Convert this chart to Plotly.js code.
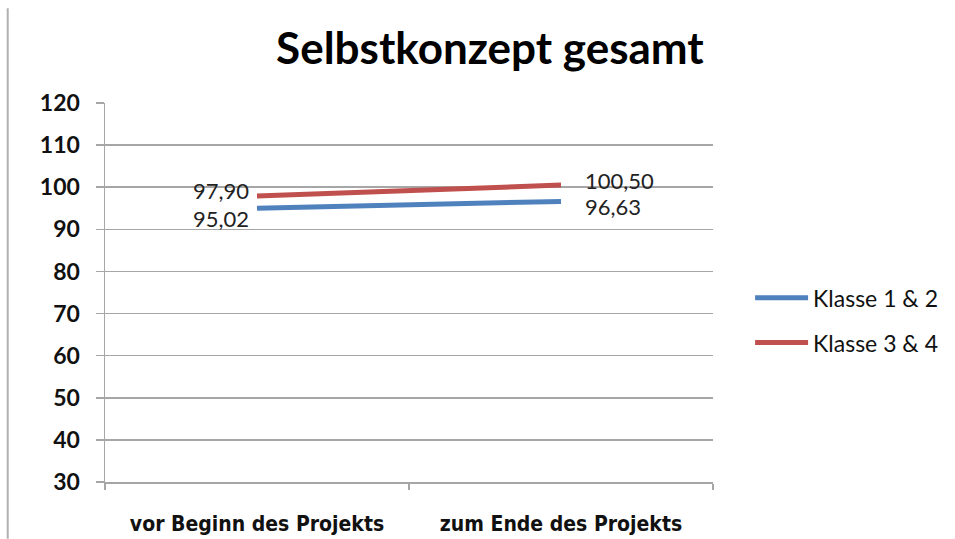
<!DOCTYPE html>
<html>
<head>
<meta charset="utf-8">
<script src="https://cdn.plot.ly/plotly-3.0.1.min.js"></script>
<style>html,body{margin:0;padding:0;background:#fff;}#chart{width:955px;height:539px;}</style>
</head>
<body>
<div id="chart"></div>
<script>
const categories = ["vor Beginn des Projekts", "zum Ende des Projekts"];
const seriesNames = ["Klasse 1 & 2", "Klasse 3 & 4"];
const klasse12 = [95.02, 96.63];
const klasse34 = [97.90, 100.50];
const yTicks = [30, 40, 50, 60, 70, 80, 90, 100, 110, 120];

const fmt = v => v.toFixed(2).replace('.', ',');
const colors = ["#4F81BD", "#C0504D"];

const traces = [
  {x: categories, y: klasse12, name: seriesNames[0], mode: 'lines', legendgroup: 'a',
   line: {color: colors[0], width: 5}, hoverinfo: 'skip'},
  {x: categories, y: klasse34, name: seriesNames[1], mode: 'lines', legendgroup: 'b',
   line: {color: colors[1], width: 5}, hoverinfo: 'skip'}
];

const labelFont = {family: 'Lato, "Open Sans", sans-serif', size: 22, color: '#222'};
const annotations = [
  {x: categories[0], y: klasse34[0], text: fmt(klasse34[0]), xanchor: 'right', yanchor: 'middle', xshift: -6, yshift: 6},
  {x: categories[0], y: klasse12[0], text: fmt(klasse12[0]), xanchor: 'right', yanchor: 'middle', xshift: -6, yshift: -10},
  {x: categories[1], y: klasse34[1], text: fmt(klasse34[1]), xanchor: 'left', yanchor: 'middle', xshift: 22, yshift: 5},
  {x: categories[1], y: klasse12[1], text: fmt(klasse12[1]), xanchor: 'left', yanchor: 'middle', xshift: 22, yshift: -5}
].map(a => Object.assign({xref: 'x', yref: 'y', showarrow: false, font: labelFont}, a));

const layout = {
  width: 955, height: 539,
  margin: {l: 105, r: 242, t: 103, b: 57},
  paper_bgcolor: '#fff', plot_bgcolor: '#fff',
  title: {text: 'Selbstkonzept gesamt', x: 0.513, xanchor: 'center', y: 0.91, yanchor: 'middle',
          font: {family: 'Lato, "Open Sans", sans-serif', size: 44, color: '#000', weight: 'bold'}},
  xaxis: {type: 'category', range: [-0.5, 1.5], showgrid: false, zeroline: false,
          showline: true, linecolor: '#a6a6a6', linewidth: 2,
          ticks: 'outside', ticklen: 6, tickcolor: '#a6a6a6', tickwidth: 1.5, tickson: 'boundaries',
          tickfont: {family: '"DejaVu Sans Condensed", Lato, sans-serif', size: 21, color: '#111', weight: 'bold', stretch: 'condensed'},
          ticklabelstandoff: 22},
  yaxis: {range: [30, 120], tickvals: yTicks, showgrid: true, gridcolor: '#a6a6a6', gridwidth: 1.5,
          zeroline: false, showline: true, linecolor: '#a6a6a6', linewidth: 1.5,
          ticks: 'outside', ticklen: 8, tickcolor: '#a6a6a6', tickwidth: 1.5,
          tickfont: {family: 'Lato, "Open Sans", sans-serif', size: 23, color: '#111', weight: 'bold'},
          ticklabelstandoff: 11},
  showlegend: true,
  legend: {x: 1.061, y: 0.488 + 0.055, xanchor: 'left', yanchor: 'top', tracegroupgap: 12, itemwidth: 53,
           font: {family: 'Lato, "Open Sans", sans-serif', size: 23, color: '#111'}, bgcolor: 'rgba(0,0,0,0)'},
  annotations: annotations,
  shapes: [
    {type: 'line', xref: 'paper', yref: 'paper', x0: -0.16, x1: -0.16, y0: -0.15, y1: 1.25,
     line: {color: '#b0b0b0', width: 2}}
  ]
};

Plotly.newPlot('chart', traces, layout, {displayModeBar: false, staticPlot: true});
</script>
</body>
</html>
